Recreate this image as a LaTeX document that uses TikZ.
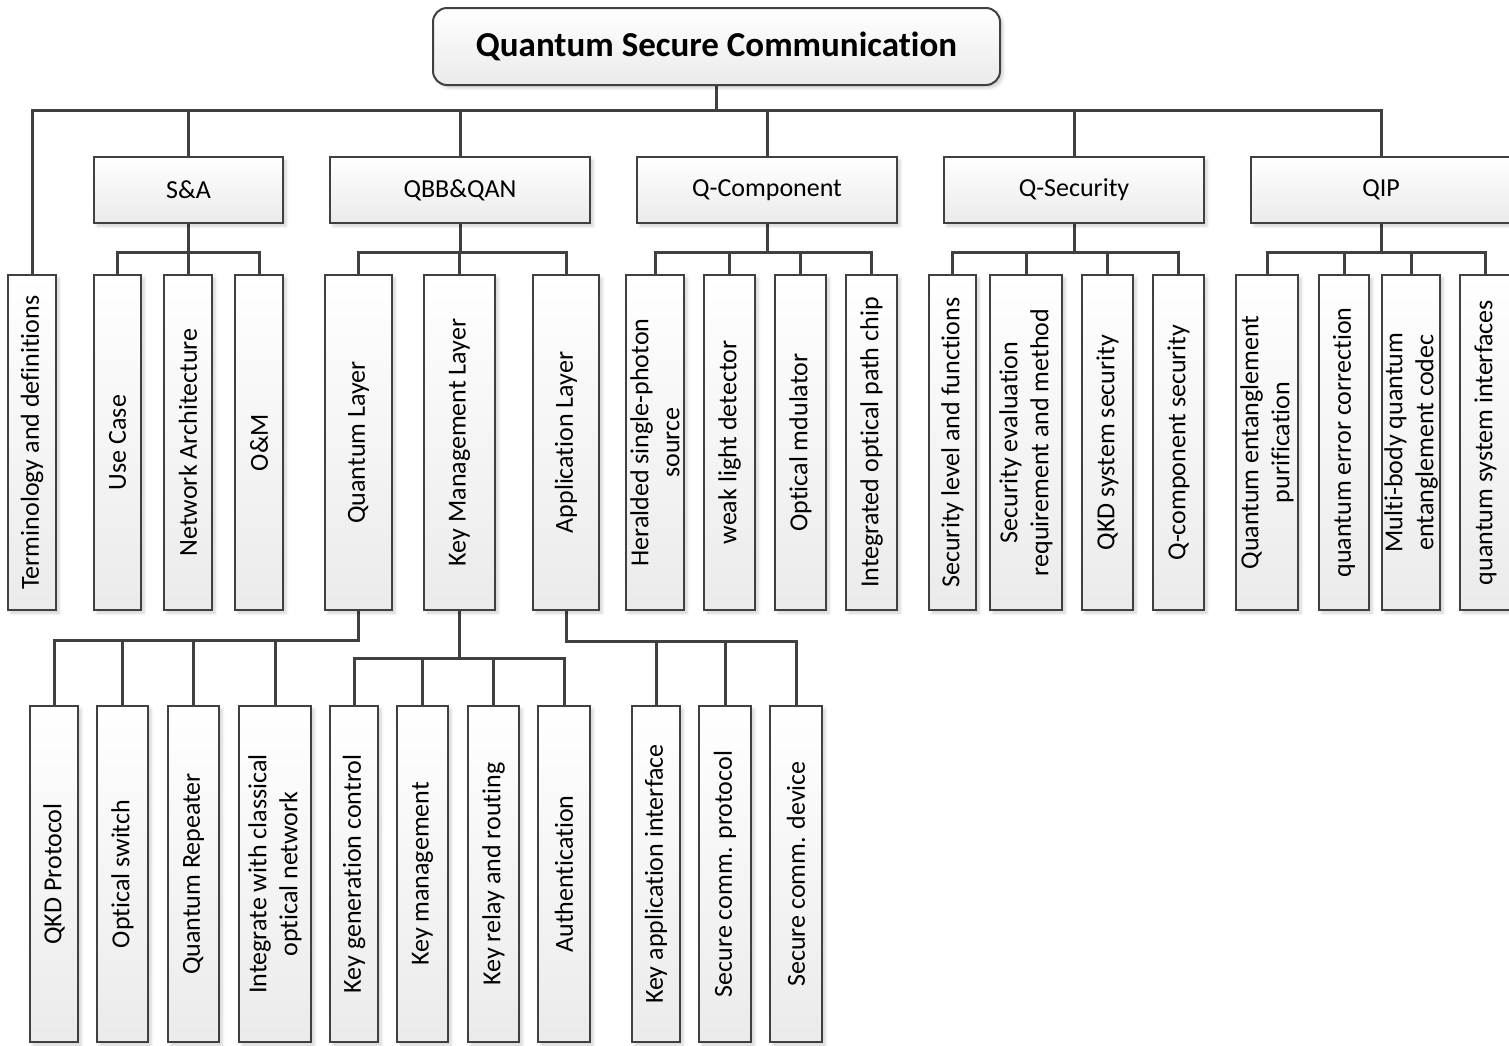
\documentclass[tikz,border=0pt]{standalone}
\usepackage{fontspec}
\setmainfont[Ligatures=NoCommon]{Carlito}
\usetikzlibrary{shadows.blur,backgrounds}
\definecolor{edge}{HTML}{404040}
\tikzset{
  boxbase/.style={draw=edge, line width=2pt, top color=white, bottom color=black!8,
    inner sep=0pt,
    blur shadow={shadow xshift=3pt, shadow yshift=-3pt, shadow blur radius=3pt, shadow opacity=18}},
  rootbox/.style={boxbase, rounded corners=14pt, font=\fontsize{35}{42}\selectfont\bfseries},
  groupbox/.style={boxbase, minimum height=66pt, font=\fontsize{26}{31}\selectfont},
  leafbox/.style={boxbase},
  vlabel/.style={rotate=90, align=center, font=\fontsize{26}{31}\selectfont, inner sep=0pt},
  wire/.style={draw=edge, line width=3pt},
}
% #1 name, #2 centre x, #3 top y, #4 bottom y, #5 width, #6 text
\newcommand\leafnode[6]{%
  \node[leafbox, minimum width=#5pt, minimum height={(#4-#3)*1pt}] (#1) at (#2,{(#3+#4)/2}) {};
  \node[vlabel] (#1-txt) at (#1.center) {#6};}
\newcommand\midleaf[4]{\leafnode{#1}{#2}{275}{610}{#3}{#4}}
\newcommand\lowleaf[4]{\leafnode{#1}{#2}{706}{1042}{#3}{#4}}
\newcommand\group[4]{\node[groupbox, minimum width=#3pt] (#1) at (#2,190) {#4};}

\begin{document}
\begin{tikzpicture}[x=1pt, y=-1pt]
\useasboundingbox (0,0) rectangle (1509,1045);

% root
\node[rootbox, minimum width=567pt, minimum height=77pt] (root) at (716.5,46.5) {Quantum Secure Communication};

% first level
\group{sa}{188.5}{189}{S\&A}
\group{qbb}{460}{260}{QBB\&QAN}
\group{qcomp}{767}{260}{Q-Component}
\group{qsec}{1074}{260}{Q-Security}
\group{qip}{1381}{260}{QIP}

% second level
\midleaf{term}{32}{48}{Terminology and definitions}
\midleaf{usecase}{117.5}{47}{Use Case}
\midleaf{netarch}{188}{48}{Network Architecture}
\midleaf{om}{259}{48}{O\&M}
\midleaf{ql}{358.5}{67}{Quantum Layer}
\midleaf{kml}{459.5}{71}{Key Management Layer}
\midleaf{al}{566}{66}{Application Layer}
\midleaf{hsp}{655}{58}{Heralded single-photon\\source}
\midleaf{wld}{729.5}{51}{weak light detector}
\midleaf{omod}{800.5}{51}{Optical mdulator}
\midleaf{iopc}{871.5}{51}{Integrated optical path chip}
\midleaf{slf}{952.5}{47}{Security level and functions}
\midleaf{serm}{1026}{72}{Security evaluation\\requirement and method}
\midleaf{qkds}{1107.5}{51}{QKD system security}
\midleaf{qcs}{1178.5}{51}{Q-component security}
\midleaf{qep}{1267}{62}{Quantum entanglement\\purification}
\midleaf{qec}{1344}{50}{quantum error correction}
\midleaf{mbq}{1411}{58}{Multi-body quantum\\entanglement codec}
\midleaf{qsi}{1485.5}{51}{quantum system interfaces}

% third level
\lowleaf{qkdp}{54}{48}{QKD Protocol}
\lowleaf{osw}{122.5}{51}{Optical switch}
\lowleaf{qrep}{193.5}{51}{Quantum Repeater}
\lowleaf{icon}{275}{72}{Integrate with classical\\optical network}
\lowleaf{kgc}{354}{48}{Key generation control}
\lowleaf{kmg}{422.5}{51}{Key management}
\lowleaf{krr}{493.5}{51}{Key relay and routing}
\lowleaf{auth}{564}{52}{Authentication}
\lowleaf{kai}{656}{48}{Key application interface}
\lowleaf{scp}{725}{52}{Secure comm. protocol}
\lowleaf{scd}{796}{52}{Secure comm. device}

% bus levels
\coordinate (topbus) at (0,110);
\coordinate (subbus) at (0,252);
\coordinate (qlbus) at (0,640);
\coordinate (kmbus) at (0,658);
\coordinate (albus) at (0,641);

\begin{scope}[on background layer]
  \foreach \c in {term,sa,qbb,qcomp,qsec,qip}
    \draw[wire] (root.south) |- (\c.north |- topbus) -- (\c.north);
  \foreach \c in {usecase,netarch,om}
    \draw[wire] (sa.south) |- (\c.north |- subbus) -- (\c.north);
  \foreach \c in {ql,kml,al}
    \draw[wire] (qbb.south) |- (\c.north |- subbus) -- (\c.north);
  \foreach \c in {hsp,wld,omod,iopc}
    \draw[wire] (qcomp.south) |- (\c.north |- subbus) -- (\c.north);
  \foreach \c in {slf,serm,qkds,qcs}
    \draw[wire] (qsec.south) |- (\c.north |- subbus) -- (\c.north);
  \foreach \c in {qep,qec,mbq,qsi}
    \draw[wire] (qip.south) |- (\c.north |- subbus) -- (\c.north);
  \foreach \c in {qkdp,osw,qrep,icon}
    \draw[wire] (ql.south) |- (\c.north |- qlbus) -- (\c.north);
  \foreach \c in {kgc,kmg,krr,auth}
    \draw[wire] (kml.south) |- (\c.north |- kmbus) -- (\c.north);
  \foreach \c in {kai,scp,scd}
    \draw[wire] (al.south) |- (\c.north |- albus) -- (\c.north);
\end{scope}
\end{tikzpicture}
\end{document}
